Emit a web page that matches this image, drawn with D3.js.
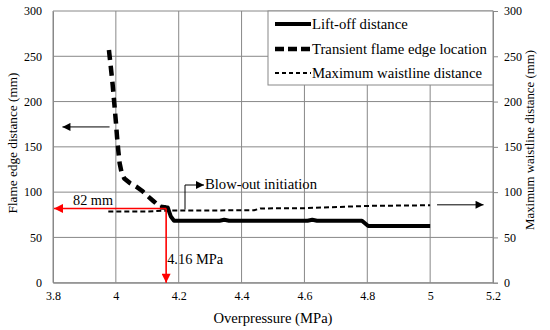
<!DOCTYPE html>
<html><head><meta charset="utf-8">
<script src="https://cdn.jsdelivr.net/npm/d3@7"></script>
<style>body{margin:0;background:#fff}svg{display:block}</style>
</head><body><svg id="c" width="550" height="330"></svg>
<script>
// Data
const xTicks = [3.8, 4, 4.2, 4.4, 4.6, 4.8, 5, 5.2];
const yTicks = [0, 50, 100, 150, 200, 250, 300];
const liftOff = [[4.14,83],[4.165,83],[4.175,73],[4.185,68.5],[4.33,68.5],[4.345,69.5],[4.36,68.5],[4.61,68.5],[4.625,69.5],[4.64,68.5],[4.783,68.5],[4.803,62.5],[5.0,62.5]];
const transient = [[3.978,257],[3.984,238],[3.99,218],[3.995,198],[4.0,178],[4.004,160],[4.008,145],[4.012,132],[4.018,122],[4.027,115],[4.045,110],[4.065,106],[4.085,101],[4.1,96],[4.12,90],[4.14,84],[4.16,83]];
const waistline = [[3.976,78.5],[4.1,78.5],[4.15,79.5],[4.22,79.7],[4.44,80],[4.46,82],[4.6,82.3],[4.8,84.8],[5.0,85.5]];
const seriesNames = ["Lift-off distance","Transient flame edge location","Maximum waistline distance"];
const blowOutX = 4.16, blowOutY = 82;

const svg = d3.select("#c");
const FONT = '"Liberation Serif","Times New Roman","DejaVu Serif",serif';

// set a font size so the text spans the given width
function fit(sel, width, maxSize){
  sel.style("font-size","20px");
  const w = sel.node().getComputedTextLength();
  sel.style("font-size", Math.min(maxSize||99, 20*width/w).toFixed(2)+"px");
  return sel;
}
function txt(sel){return sel.style("font-family",FONT).attr("fill","#000");}

const L=53, R=493, T=11, B=282.7;
const x = d3.scaleLinear().domain([3.8,5.2]).range([L,R]);
const y = d3.scaleLinear().domain([0,300]).range([B,T]);
const grid="#888";

svg.append("g").selectAll("line").data(yTicks).join("line")
  .attr("x1",L).attr("x2",R).attr("y1",d=>y(d)).attr("y2",d=>y(d)).attr("stroke",grid).attr("stroke-width",1);
svg.append("g").selectAll("line").data(xTicks).join("line")
  .attr("x1",d=>x(d)).attr("x2",d=>x(d)).attr("y1",T).attr("y2",B).attr("stroke",grid).attr("stroke-width",1);

const fmt = d=>String(d);
const gl = svg.append("g").attr("transform",`translate(${L},0)`).call(d3.axisLeft(y).tickValues(yTicks).tickSize(0).tickPadding(11).tickFormat(fmt));
const gr = svg.append("g").attr("transform",`translate(${R},0)`).call(d3.axisRight(y).tickValues(yTicks).tickSize(5).tickPadding(6).tickFormat(fmt));
const gb = svg.append("g").attr("transform",`translate(0,${B})`).call(d3.axisBottom(x).tickValues(xTicks).tickSize(0).tickPadding(9).tickFormat(fmt));
[gl,gr,gb].forEach(g=>{g.attr("font-family",null);g.selectAll("path,line").attr("stroke",grid);g.selectAll("text").style("font-family",FONT).style("font-size","12px").attr("fill","#000");});

fit(txt(svg.append("text").attr("x",(L+R)/2).attr("y",323).attr("text-anchor","middle").text("Overpressure (MPa)")),119,15);
fit(txt(svg.append("text").attr("transform",`translate(17,143) rotate(-90)`).attr("text-anchor","middle").text("Flame edge distance (mm)")),141,15);
fit(txt(svg.append("text").attr("transform",`translate(534,140) rotate(-90)`).attr("text-anchor","middle").text("Maximum waistline distance (mm)")),180,15);

const defs = svg.append("defs");
function marker(id,color,w,h){defs.append("marker").attr("id",id).attr("viewBox","0 0 10 10").attr("refX",10).attr("refY",5)
  .attr("markerWidth",w).attr("markerHeight",h).attr("markerUnits","userSpaceOnUse").attr("orient","auto")
  .append("path").attr("d","M0,0L10,5L0,10Z").attr("fill",color);}
marker("ab","#000",9,8); marker("ar","#f00",11,9);

const line = d3.line().x(d=>x(d[0])).y(d=>y(d[1]));
svg.append("path").datum(waistline).attr("d",line).attr("fill","none").attr("stroke","#000").attr("stroke-width",2).attr("stroke-dasharray","5,3");
svg.append("path").datum(transient).attr("d",line).attr("fill","none").attr("stroke","#000").attr("stroke-width",4.5).attr("stroke-dasharray","10,6");
svg.append("path").datum(liftOff).attr("d",line).attr("fill","none").attr("stroke","#000").attr("stroke-width",4).attr("stroke-linejoin","round");

svg.append("line").attr("x1",x(blowOutX)).attr("x2",x(3.8)+1).attr("y1",y(blowOutY)).attr("y2",y(blowOutY)).attr("stroke","#f00").attr("stroke-width",1.6).attr("marker-end","url(#ar)");
svg.append("line").attr("x1",x(blowOutX)).attr("x2",x(blowOutX)).attr("y1",y(blowOutY)).attr("y2",y(0)).attr("stroke","#f00").attr("stroke-width",1.6).attr("marker-end","url(#ar)");
fit(txt(svg.append("text").attr("x",73).attr("y",205).text(blowOutY+" mm")),40,15);
fit(txt(svg.append("text").attr("x",x(blowOutX)+1).attr("y",264).text(blowOutX+" MPa")),56,15);

svg.append("line").attr("x1",x(3.98)).attr("x2",x(3.83)).attr("y1",y(172)).attr("y2",y(172)).attr("stroke","#000").attr("stroke-width",1).attr("marker-end","url(#ab)");
svg.append("line").attr("x1",x(5.022)).attr("x2",x(5.17)).attr("y1",y(86)).attr("y2",y(86)).attr("stroke","#000").attr("stroke-width",1).attr("marker-end","url(#ab)");
svg.append("path").attr("d",`M185,${y(82)+1}V185H204`).attr("fill","none").attr("stroke","#000").attr("stroke-width",1).attr("marker-end","url(#ab)");
fit(txt(svg.append("text").attr("x",205).attr("y",189).text("Blow-out initiation")),112,15);

const lg = svg.append("g");
lg.append("rect").attr("x",268).attr("y",T).attr("width",R-268).attr("height",74).attr("fill","#fff").attr("stroke",grid).attr("stroke-width",1);
const styles=[{w:4,d:null},{w:4.5,d:"9,4"},{w:2,d:"4,3"}];
const ly=[24,49,73];
seriesNames.forEach((n,i)=>{
  lg.append("line").attr("x1",275).attr("x2",311).attr("y1",ly[i]).attr("y2",ly[i]).attr("stroke","#000").attr("stroke-width",styles[i].w).attr("stroke-dasharray",styles[i].d);
  fit(txt(lg.append("text").attr("x",312).attr("y",ly[i]+5).text(n)),175,15);
});
// equalize legend font sizes to the smallest fitted one
const sizes = lg.selectAll("text").nodes().map(n=>parseFloat(n.style.fontSize));
lg.selectAll("text").style("font-size", d3.min(sizes)+"px");
</script></body></html>
